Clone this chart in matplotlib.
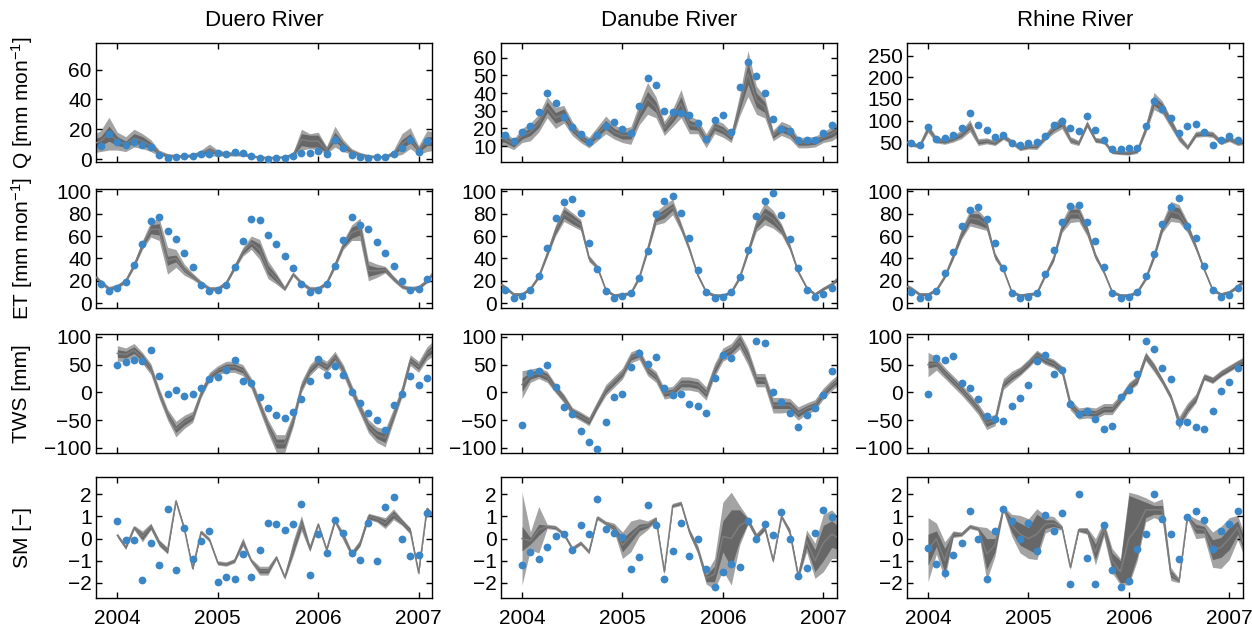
import matplotlib
matplotlib.use('Agg')
import matplotlib.pyplot as plt
import numpy as np

plt.rcParams['font.family'] = ['Liberation Sans', 'DejaVu Sans']
plt.rcParams['mathtext.default'] = 'regular'

rivers = ['Duero River', 'Danube River', 'Rhine River']
ylabels = ['Q [mm mon$^{-1}$]', 'ET [mm mon$^{-1}$]', 'TWS [mm]', 'SM [\u2212]']
years = [2004, 2005, 2006, 2007]

# months counted from Jan 2004; Q/ET models start Oct 2003, obs Nov 2003
# TWS/SM models and obs start Jan 2004

# ---- Q ----
q_duero_mod = [10, 12, 17, 12, 10, 14, 12, 9, 4, 2.5, 2, 2, 2.5, 4, 6, 4, 3.5, 3.5, 3.5, 2, 1.3, 1, 1, 1.5, 3,
               13, 12, 12, 6, 15, 9, 5, 3, 2, 1.5, 1.5, 4, 10, 14, 6, 12, 12]
q_duero_w1 = [3, 3, 5, 3, 2, 3, 3, 2, 1, 0.6, 0.5, 0.5, 0.6, 1, 1.5, 1, 0.8, 0.8, 0.8, 0.5, 0.3, 0.3, 0.3, 0.4, 0.8,
              4, 4, 4, 1.5, 3, 2, 1, 0.7, 0.5, 0.4, 0.4, 1, 3, 3, 1.5, 3, 3]
q_duero_w2 = [6, 7, 11, 6, 5, 6, 5, 4, 2, 1.2, 1, 1, 1.2, 2, 4, 2, 1.5, 1.5, 1.5, 1, 0.6, 0.5, 0.5, 0.8, 1.5,
              7, 5, 6, 2.5, 7, 4, 2, 1.4, 1, 0.8, 0.8, 2, 7, 7, 3, 7, 6]
q_duero_obs = [8.5, 16.8, 11.4, 9.6, 11.4, 9.2, 8.3, 2.9, 0.9, 1.1, 1.8, 2.2, 3.4, 3.1, 4.0, 3.6, 4.5, 4.0, 1.8, 0.4,
               0.2, 0.4, 0.9, 2.0, 4.0, 4.0, 5.4, 3.6, 13, 7.2, 2.5, 1.3, 0.9, 1.1, 1.6, 3.4, 7.2, 12.8, 4.7, 12.3]

q_danube_mod = [15, 14, 11, 16, 18, 23, 32, 26, 28, 20, 15, 12, 17, 22, 18, 16, 16, 28, 37, 32, 20, 26, 34, 22, 21,
                13, 21, 19, 15, 33, 51, 36, 32, 16, 20, 18, 12, 12, 12.5, 15, 17, 20]
q_danube_w1 = [2, 2, 1.5, 2, 2, 2.5, 3, 3, 3, 2, 1.5, 1.5, 2, 2.5, 2, 2, 2, 3, 4, 3, 2, 2.5, 4, 2.5, 2,
               1.5, 2, 2, 1.5, 3, 6, 4, 3, 1.5, 2, 2, 1.5, 1.5, 1.5, 1.5, 2, 2]
q_danube_w2 = [4, 4, 3, 4, 5, 5, 6, 6, 5, 4, 3, 3, 4, 5, 4, 4, 5, 6, 9, 6, 4, 5, 8, 5, 4,
               4, 4, 4, 3, 6, 13, 8, 6, 3, 4, 4, 3, 3, 3, 3, 4, 4]
q_danube_obs = [16.0, 12.6, 18.2, 21.6, 29.2, 40.2, 34.1, 26.2, 20.8, 16.7, 12.4, 16.5, 21.4, 23.6, 19.9, 17.6,
                32.6, 48.8, 44.5, 29.8, 29.2, 28.7, 27.7, 23.1, 14.1, 24.7, 27.7, 18.0, 43.2, 57.6, 49.4, 40.2,
                25.1, 19.9, 18.4, 13.4, 13.4, 13.7, 17.5, 21.8]

q_rhine_mod = [55, 45, 42, 82, 55, 52, 58, 68, 88, 50, 53, 48, 63, 50, 36, 40, 40, 62, 82, 95, 55, 48, 92, 55, 52,
               28, 26, 25, 30, 80, 145, 130, 95, 60, 38, 68, 70, 68, 50, 58, 48, 52]
q_rhine_w1 = [4, 3, 3, 5, 4, 4, 4, 5, 7, 4, 4, 3, 4, 3, 3, 3, 3, 4, 6, 8, 4, 3, 5, 4, 3,
              3, 3, 3, 3, 5, 10, 9, 7, 5, 3, 4, 4, 4, 3, 4, 3, 4]
q_rhine_w2 = [7, 5, 5, 10, 7, 7, 8, 10, 14, 8, 7, 6, 7, 6, 6, 6, 7, 8, 12, 14, 8, 6, 8, 6, 6,
              5, 5, 5, 6, 10, 20, 15, 12, 9, 6, 7, 7, 7, 6, 7, 6, 7]
q_rhine_obs = [47, 42.4, 85, 57.6, 59.9, 66, 83.6, 117, 89.7, 79, 61.5, 66.8, 48.5, 42.4, 47, 50.8, 63, 89.7,
               99.6, 82, 76, 111, 79, 55.3, 33.2, 33.2, 36.3, 36.3, 86.6, 144.7, 125.6, 106.5, 71.4, 88, 91.2,
               73, 43, 53.8, 63.7, 55.3]

# ---- ET ----
et_duero_mod = [27, 19, 13, 15, 20, 34, 52, 66, 66, 38, 40, 30, 24, 18, 13, 13, 18, 32, 46, 54, 48, 30, 22, 13, 26,
                18, 13, 13, 18, 34, 52, 63, 66, 29, 29, 30, 22, 15, 13, 14, 20, 30]
et_duero_w1 = [1, 1, 1, 1, 1, 1.5, 2, 4, 5, 4, 3, 2, 1.5, 1, 1, 1, 1, 1.5, 2, 3, 5, 4, 3, 1, 1,
               1, 1, 1, 1, 1.5, 2, 5, 5, 5, 3, 2, 1.5, 1, 1, 1, 1, 1]
et_duero_w2 = [2, 2, 2, 2, 2, 2.5, 4, 7, 10, 12, 8, 5, 3, 2, 2, 2, 2, 2.5, 4, 6, 9, 8, 5, 2, 2,
               2, 2, 2, 2, 3, 4, 7, 10, 9, 6, 3, 2.5, 2, 2, 2, 2, 2]
et_duero_obs = [17.5, 11.3, 13.9, 19.3, 34.1, 52.8, 73, 76.9, 64.4, 57.3, 45.1, 32.3, 16.3, 10.7, 11.6, 16, 32,
                55.5, 75.4, 73.9, 61.1, 53.1, 41.8, 31.5, 16.9, 10.1, 11.6, 17.2, 33.5, 56.4, 76.9, 70, 66.2,
                54.9, 45.1, 33.2, 19.6, 11.9, 13.1, 21.7]

et_danube_mod = [19, 14, 8, 8, 13, 24, 44, 65, 80, 75, 70, 40, 32, 12, 7, 8, 9, 23, 48, 76, 80, 86, 68, 48, 25,
                 10, 7, 7, 10, 23, 46, 70, 80, 75, 66, 50, 28, 14, 8, 13, 17, 24]
et_danube_w1 = [1, 1, 1, 1, 1, 1, 2, 3, 4, 4, 3, 1.5, 1, 1, 1, 1, 1, 1, 2, 3, 4, 3, 2, 1.5, 1,
                1, 1, 1, 1, 1, 2, 3, 5, 5, 3, 2, 1, 1, 1, 1, 1, 1]
et_danube_w2 = [2, 2, 1.5, 1.5, 1.5, 2, 3, 5, 7, 6, 5, 3, 2, 1.5, 1.5, 1.5, 1.5, 2, 3, 6, 8, 7, 4, 3, 2,
                1.5, 1.5, 1.5, 1.5, 2, 3, 6, 10, 8, 5, 3, 2, 1.5, 1.5, 1.5, 2, 2]
et_danube_obs = [11.6, 4.7, 6.2, 11.6, 24.6, 49.6, 76, 90.8, 92.9, 80.7, 53.7, 30.3, 11.3, 5, 6.5, 9.5, 22.8,
                 46.3, 79.5, 91.4, 95.8, 81, 57.9, 30, 10.4, 5, 5.6, 10.4, 23.7, 47.2, 78, 91.7, 98.5, 78.6,
                 57.6, 31.2, 11.6, 5.6, 8.3, 13.4]

et_rhine_mod = [17, 13, 8, 8, 12, 24, 42, 62, 76, 75, 70, 42, 30, 10, 7, 8, 9, 25, 40, 68, 80, 80, 65, 42, 28,
                10, 7, 7, 10, 22, 42, 68, 82, 80, 68, 50, 30, 12, 8, 10, 15, 22]
et_rhine_w1 = [1, 1, 1, 1, 1, 1, 2, 3, 4, 5, 3, 2, 1, 1, 1, 1, 1, 1, 2, 3, 4, 4, 3, 2, 1,
               1, 1, 1, 1, 1, 2, 3, 5, 5, 3, 2, 1, 1, 1, 1, 1, 1]
et_rhine_w2 = [2, 2, 1.5, 1.5, 1.5, 2, 3, 5, 7, 8, 5, 3, 2, 1.5, 1.5, 1.5, 1.5, 2, 3, 5, 8, 7, 5, 3, 2,
               1.5, 1.5, 1.5, 1.5, 2, 3, 5, 9, 8, 5, 3, 2, 1.5, 1.5, 1.5, 2, 2]
et_rhine_obs = [10.4, 4.5, 5.9, 11.3, 26.7, 46, 69.1, 83.4, 86, 74.8, 53.4, 31.8, 9.5, 4.5, 5.6, 9.2, 26.1, 47.2,
                72.7, 86.6, 87.8, 72.4, 55.2, 32.3, 9.5, 4.5, 5.3, 10.4, 24.3, 43.6, 70.6, 86, 94, 69.4, 57.9,
                33.5, 11.6, 5.3, 7.4, 13.4]

# ---- TWS ----
tws_duero_mod = [70, 68, 76, 62, 42, -2, -40, -66, -53, -44, -2, 28, 40, 46, 46, 40, 16, -23, -61, -92, -92, -50,
                 10, 40, 55, 46, 64, 40, 4, -29, -61, -76, -82, -41, 1, 58, 46, 70, 82]
tws_duero_w1 = [7, 6, 6, 6, 5, 5, 5, 6, 6, 5, 4, 4, 4, 5, 5, 5, 5, 5, 6, 8, 8, 6, 5, 5, 5,
                5, 5, 5, 5, 5, 6, 7, 8, 6, 5, 5, 5, 6, 7]
tws_duero_w2 = [14, 12, 12, 10, 10, 10, 10, 14, 12, 10, 8, 8, 8, 10, 10, 10, 10, 10, 12, 16, 16, 12, 10, 10, 10,
                10, 10, 10, 10, 10, 12, 14, 16, 12, 10, 10, 10, 12, 14]
tws_duero_obs = [50.1, 54.3, 57.9, 57.3, 75.8, 29.3, -3.6, 4.2, -6.6, -2.4, 8.4, 23.9, 28.1, 40, 58.5, 20.3, 16.1,
                 -7.8, -28.7, -40, -46.6, -34.6, -11.3, 20.3, 59.7, 31, 46.6, 31.6, 0.6, -19.1, -36.4, -50.1,
                 -66.9, -22.1, -3, 29.3, 13.7, 26.3]

tws_danube_mod = [14, 30, 35, 28, 7, -11, -35, -43, -52, -23, 4, 19, 34, 63, 69, 40, 28, -2, 1, 16, 16, 13, -2,
                  40, 68, 76, 93, 64, 22, 22, -23, -23, -23, -38, -29, -23, -2, 13, 25]
tws_danube_w1 = [12, 6, 6, 6, 5, 5, 5, 5, 5, 5, 5, 5, 5, 5, 5, 5, 5, 5, 5, 6, 6, 6, 6, 6, 6,
                 6, 8, 8, 6, 6, 6, 6, 6, 6, 5, 5, 5, 5, 5]
tws_danube_w2 = [25, 12, 10, 10, 8, 8, 8, 8, 8, 8, 10, 10, 10, 10, 10, 10, 10, 10, 10, 12, 12, 12, 12, 12, 12,
                 12, 15, 15, 12, 12, 14, 14, 12, 12, 10, 10, 10, 10, 10]
tws_danube_obs = [-59, 34, 38.2, 49.6, 10.1, -26.9, -39.4, -68.7, -89.6, -102, -53.7, -7.8, -2.4, 46, 71, 51.3,
                  63.3, 7.2, -4.2, -2.4, -21.5, -23.9, -37, 25.1, 68, 62.1, np.nan, np.nan, 91.9, 88.4, 0.6,
                  -17.3, -37, -62.7, -40, -27.5, -4.2, 38.8]

tws_rhine_mod = [50, 52, 35, 20, 5, -12, -30, -55, -50, 15, 28, 38, 52, 68, 58, 52, 40, -22, -38, -36, -38, -30,
                 -30, -12, 10, 22, 65, 45, 20, -8, -55, -29, -11, 28, 22, 34, 43, 52, 60]
tws_rhine_w1 = [6, 5, 5, 5, 5, 5, 5, 6, 5, 5, 5, 5, 5, 5, 5, 5, 5, 5, 5, 5, 5, 5, 5, 5, 5,
                5, 5, 5, 4, 4, 6, 5, 5, 4, 4, 4, 4, 4, 4]
tws_rhine_w2 = [22, 12, 10, 10, 10, 10, 10, 12, 10, 10, 10, 8, 8, 8, 8, 8, 8, 10, 10, 10, 10, 10, 10, 8, 8,
                8, 8, 8, 6, 6, 12, 10, 8, 6, 6, 6, 6, 6, 6]
tws_rhine_obs = [-2.4, 62.7, 59.1, 65.7, 17.3, 8.4, -12.5, -43, -47.2, -51.9, -23.9, -10.1, 13.7, 56.1, 67.5,
                 32.8, 40, -21.5, -38.2, -32.8, -48.4, -65.7, -59.7, -9, 4.2, 32.8, 93.1, 77.6, 43, 23.9,
                 -53.7, -53.7, -61.5, -65.7, -34, 3, 17.9, 43]

# ---- SM ----
sm_duero_mod = [0.15, -0.4, 0.5, 0.1, 0.55, -0.2, -0.55, 1.7, 0.45, -1.35, 0.3, -0.05, -1.1, -1.15, -1.0, -0.15,
                -1.0, -1.45, -1.45, -0.85, -1.75, -0.45, 0.7, -0.45, 0.65, -0.5, 0.8, 0.1, -0.7, -0.2, 1.0,
                0.9, 0.7, 1.1, 0.75, 0.35, -1.55, 1.35, 0.9]
sm_duero_w1 = [0.05, 0.05, 0.05, 0.15, 0.1, 0.1, 0.1, 0.05, 0.05, 0.05, 0.05, 0.05, 0.05, 0.05, 0.05, 0.1,
               0.05, 0.1, 0.1, 0.05, 0.05, 0.2, 0.2, 0.1, 0.05, 0.05, 0.05, 0.1, 0.1, 0.1, 0.1, 0.1, 0.15,
               0.15, 0.1, 0.1, 0.05, 0.05, 0.1]
sm_duero_w2 = [0.1, 0.1, 0.1, 0.25, 0.15, 0.15, 0.15, 0.1, 0.1, 0.1, 0.1, 0.1, 0.1, 0.1, 0.1, 0.2, 0.1, 0.2,
               0.2, 0.1, 0.1, 0.35, 0.35, 0.15, 0.1, 0.1, 0.1, 0.2, 0.15, 0.15, 0.15, 0.15, 0.25, 0.25, 0.15,
               0.15, 0.1, 0.1, 0.15]
sm_duero_obs = [0.81, -0.07, -0.06, -1.86, -0.22, -1.2, 1.32, -1.41, 0.49, -0.93, -0.1, 0.34, -1.95, -1.72,
                -1.83, -0.69, -1.72, -0.52, 0.69, 0.64, 0.37, 0.67, 1.57, -1.66, 0.21, -0.64, 0.82, 0.25,
                -0.63, -0.99, 0.69, -1.03, 1.42, 1.87, -0.01, -0.79, -0.72, 1.17]

sm_danube_mod = [0.0, -0.1, 0.4, 0.55, 0.5, 0.2, -0.45, -0.2, -0.6, 0.95, 0.7, 0.5, -0.3, 0.1, 0.5, 0.6, 0.9,
                 -1.5, 1.5, 1.6, 0.3, -0.5, -1.8, -1.6, 0.1, 0.0, 0.6, 0.8, 0.1, 0.5, -1.0, 1.0, 0.3, -1.7,
                 -0.1, -1.0, -0.2, 0.2, 0.0]
sm_danube_w1 = [0.55, 0.15, 0.25, 0.05, 0.05, 0.05, 0.05, 0.05, 0.05, 0.05, 0.05, 0.1, 0.3, 0.25, 0.15, 0.1,
                0.05, 0.05, 0.05, 0.05, 0.1, 0.1, 0.15, 0.35, 0.7, 1.3, 0.7, 0.1, 0.1, 0.1, 0.05, 0.05, 0.1,
                0.1, 0.3, 0.5, 0.8, 0.6, 0.5]
sm_danube_w2 = [2.1, 0.4, 1.05, 0.1, 0.1, 0.1, 0.1, 0.1, 0.1, 0.1, 0.1, 0.2, 0.6, 0.7, 0.4, 0.2, 0.1, 0.1, 0.1,
                0.1, 0.15, 0.2, 0.25, 0.7, 1.55, 2.1, 0.9, 0.15, 0.15, 0.15, 0.1, 0.1, 0.15, 0.15, 0.5, 0.8,
                1.3, 1.1, 0.9]
sm_danube_obs = [-1.18, -0.61, -0.9, -0.37, 0.1, 0.19, -0.52, 0.61, 0.19, 1.77, 0.45, 0.24, 0.07, -1.36, -0.82,
                 1.5, 0.63, -1.83, -0.54, 0.72, -0.79, -0.04, -1.38, -2.19, -1.53, -1.14, -1.27, 0.81, 0.0,
                 0.64, 0.18, 1.2, -0.04, -1.68, -1.32, 0.24, 1.29, 0.99]

sm_rhine_mod = [-0.5, 0.0, -1.0, 0.2, 0.2, 0.55, 0.45, -0.7, -0.3, 1.35, 0.6, 0.2, 0.0, 0.2, 0.65, 0.7, 0.5,
                -1.3, 0.4, 0.35, -0.6, 0.45, -1.0, -1.5, 0.0, 0.5, 1.3, 1.3, 1.3, -1.6, -1.9, 1.0, 0.45, 0.4,
                -0.5, -0.4, 0.0, 0.5, -0.5]
sm_rhine_w1 = [0.7, 0.35, 0.55, 0.1, 0.05, 0.05, 0.05, 0.7, 0.3, 0.05, 0.3, 0.5, 0.5, 0.9, 0.2, 0.15, 0.05,
               0.05, 0.05, 0.1, 0.35, 0.2, 0.35, 0.5, 1.95, 1.3, 0.35, 0.2, 0.2, 0.15, 0.05, 0.05, 0.2, 0.15,
               0.45, 0.45, 0.5, 0.3, 0.3]
sm_rhine_w2 = [1.45, 0.7, 0.85, 0.15, 0.1, 0.1, 0.1, 1.2, 0.5, 0.1, 0.5, 0.85, 0.9, 1.15, 0.4, 0.3, 0.1, 0.1,
               0.1, 0.15, 0.6, 0.35, 0.55, 0.6, 2.1, 1.5, 0.55, 0.35, 0.5, 0.3, 0.1, 0.1, 0.45, 0.35, 0.8,
               0.95, 0.95, 0.55, 0.5]
sm_rhine_obs = [-0.43, -1.16, -1.54, -0.72, -0.22, 1.24, -0.03, -1.82, 0.34, 1.36, 0.81, -0.01, 0.7, -0.54,
                1.06, 0.34, 1.16, -2.04, 2.03, -0.87, -2.07, 0.61, -1.43, -2.21, -1.94, -0.46, 0.22, 2.0, 0.9,
                0.22, -0.94, 0.97, 1.27, 0.85, -0.45, 0.34, 0.64, 1.24]

# rows: (model, inner half-width, outer half-width, observations) per river
panels = [
    [(q_duero_mod, q_duero_w1, q_duero_w2, q_duero_obs),
     (q_danube_mod, q_danube_w1, q_danube_w2, q_danube_obs),
     (q_rhine_mod, q_rhine_w1, q_rhine_w2, q_rhine_obs)],
    [(et_duero_mod, et_duero_w1, et_duero_w2, et_duero_obs),
     (et_danube_mod, et_danube_w1, et_danube_w2, et_danube_obs),
     (et_rhine_mod, et_rhine_w1, et_rhine_w2, et_rhine_obs)],
    [(tws_duero_mod, tws_duero_w1, tws_duero_w2, tws_duero_obs),
     (tws_danube_mod, tws_danube_w1, tws_danube_w2, tws_danube_obs),
     (tws_rhine_mod, tws_rhine_w1, tws_rhine_w2, tws_rhine_obs)],
    [(sm_duero_mod, sm_duero_w1, sm_duero_w2, sm_duero_obs),
     (sm_danube_mod, sm_danube_w1, sm_danube_w2, sm_danube_obs),
     (sm_rhine_mod, sm_rhine_w1, sm_rhine_w2, sm_rhine_obs)],
]
mod_start = [-3, -3, 0, 0]   # first month of model series per row
obs_start = [-2, -2, 0, 0]

ylims = [[(-2, 78), (1, 68.5), (4, 280)],
         [(-4, 102)] * 3,
         [(-109, 105)] * 3,
         [(-2.7, 2.8)] * 3]
yticks = [[[0, 20, 40, 60], [10, 20, 30, 40, 50, 60], [50, 100, 150, 200, 250]],
          [[0, 20, 40, 60, 80, 100]] * 3,
          [[-100, -50, 0, 50, 100]] * 3,
          [[-2, -1, 0, 1, 2]] * 3]

light = '#a3a3a3'
dark = '#676767'
linec = '#7d7d7d'
dotc = '#3a86c6'

W, H = 1252, 629
fig = plt.figure(figsize=(W / 100, H / 100), dpi=100)

col_left = [96, 500.7, 906.7]
col_w = 336
row_top = [42.7, 189, 334, 476.7]
row_bot = [162, 307.7, 453, 598.3]


def month_x(start, n):
    return 2004 + (np.arange(n) + start) / 12.0


for r in range(4):
    for c in range(3):
        mod, w1, w2, obs = [np.array(a, dtype=float) for a in panels[r][c]]
        ax = fig.add_axes([col_left[c] / W, 1 - row_bot[r] / H, col_w / W, (row_bot[r] - row_top[r]) / H])
        xm = month_x(mod_start[r], len(mod))
        xo = month_x(obs_start[r], len(obs))
        ax.fill_between(xm, mod - w2, mod + w2, color=light, lw=0, zorder=1)
        ax.fill_between(xm, mod - w1, mod + w1, color=dark, lw=0, zorder=2)
        ax.plot(xm, mod, color=linec, lw=1.1, zorder=3)
        ax.plot(xo, obs, 'o', color=dotc, ms=5.6, mec='none', zorder=4)

        ax.set_xlim(2004 - 2.55 / 12, 2007 + 1.6 / 12)
        ax.set_ylim(*ylims[r][c])
        ax.set_yticks(yticks[r][c])
        ax.set_xticks(years)
        ax.tick_params(direction='in', top=True, right=True, length=4, width=1, labelsize=15, pad=3)
        if r < 3:
            ax.set_xticklabels([])
        else:
            ax.tick_params(axis='x', pad=8)
        for s in ax.spines.values():
            s.set_linewidth(1.0)
        if r == 0:
            ax.set_title(rivers[c], fontsize=16, pad=12)
        if c == 0:
            yc = 1 - (row_top[r] + row_bot[r]) / 2 / H
            fig.text(22 / W, yc, ylabels[r], rotation=90, ha='center', va='center', fontsize=15)

fig.savefig('out.png', dpi=100)
